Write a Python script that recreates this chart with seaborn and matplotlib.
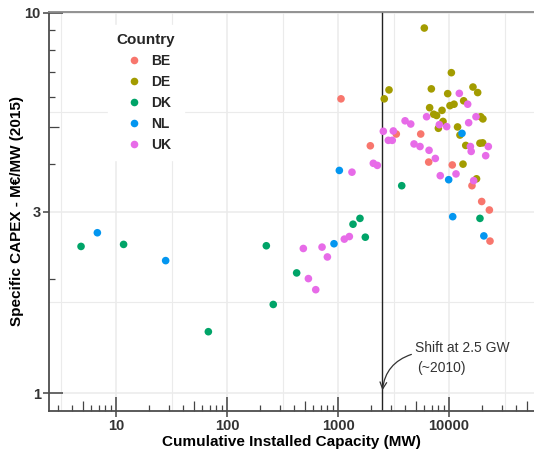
import numpy as np
import pandas as pd
import matplotlib
matplotlib.use("Agg")
import matplotlib.pyplot as plt
import matplotlib.ticker as mticker
import seaborn as sns

# ---------------------------------------------------------------------------
# Data
# ---------------------------------------------------------------------------
BE_X = [1064, 1955, 3350, 5560, 6560, 10700, 16100, 19700, 23100, 23400]
BE_Y = [5.94, 4.47, 4.80, 4.80, 4.05, 3.98, 3.51, 3.19, 3.03, 2.51]

DE_X = [2610, 2880, 5990, 6690, 6930, 7280, 7730, 8020, 8650, 8830, 9730, 10200, 10500,
        11100, 11940, 12550, 13370, 13550, 14150, 16440, 17700, 18120, 19000, 19300,
        20100, 20200]
DE_Y = [5.94, 6.27, 9.12, 5.63, 6.31, 5.41, 5.37, 4.97, 5.54, 5.18, 6.13, 5.70, 6.96,
        5.75, 5.01, 4.77, 4.00, 5.87, 4.48, 6.38, 3.66, 6.17, 4.54, 5.33,
        4.55, 5.26]

DK_X = [4.84, 11.7, 67.9, 226, 261, 424, 1365, 1577, 1762, 3750, 19000]
DK_Y = [2.43, 2.46, 1.45, 2.44, 1.71, 2.07, 2.78, 2.88, 2.57, 3.51, 2.88]

NL_X = [6.79, 28.0, 920, 1028, 9930, 10800, 13090, 20600]
NL_Y = [2.64, 2.23, 2.47, 3.85, 3.64, 2.91, 4.82, 2.59]

UK_X = [487, 541, 630, 718, 802, 1140, 1265, 1336, 2080, 2260, 2560, 2840, 3080, 3150,
        4020, 4520, 4840, 5480, 6280, 6610, 7530, 8180, 8340, 9530, 11560, 12380,
        14730, 15030, 15580, 15840, 16680, 17500, 21400, 22600]
UK_Y = [2.40, 2.00, 1.87, 2.42, 2.28, 2.54, 2.58, 3.81, 4.02, 3.97, 4.88, 4.62, 4.62, 4.89,
        5.20, 5.10, 4.52, 4.45, 5.33, 4.35, 4.14, 5.08, 3.73, 5.02, 3.77, 6.14,
        5.75, 5.14, 4.45, 4.32, 3.62, 5.33, 4.21, 4.45]

COUNTRIES = ["BE", "DE", "DK", "NL", "UK"]
COLORS = ["#F8766D", "#A39C00", "#00A468", "#0396F0", "#E76BE8"]

X_MAJOR = [10, 100, 1000, 10000]
Y_MAJOR = [1, 3, 10]
SHIFT_MW = 2500

# ---------------------------------------------------------------------------
# Build frame
# ---------------------------------------------------------------------------
series = {"BE": (BE_X, BE_Y), "DE": (DE_X, DE_Y), "DK": (DK_X, DK_Y),
          "NL": (NL_X, NL_Y), "UK": (UK_X, UK_Y)}
df = pd.concat(
    [pd.DataFrame({"capacity": xs, "capex": ys, "Country": c}) for c, (xs, ys) in series.items()],
    ignore_index=True,
)

sns.set_theme(style="white")
plt.rcParams["font.family"] = ["Liberation Sans", "DejaVu Sans"]

TICK_COL = "#333333"
GRID_COL = "#ebebeb"

fig = plt.figure(figsize=(5.34, 4.51), dpi=100)
ax = fig.add_axes([49 / 534, 40 / 451, 485 / 534, 399 / 451])

ax.set_xscale("log")
ax.set_yscale("log")
ax.set_xlim(2.49, 58300)
ax.set_ylim(0.897, 10.05)

# ggplot-like grid: majors + half-decade minors
for v in X_MAJOR:
    ax.axvline(v, color=GRID_COL, lw=1.1, zorder=0)
for k in range(0, 5):
    ax.axvline(10 ** (k + 0.5), color=GRID_COL, lw=0.8, zorder=0)
for v in Y_MAJOR:
    ax.axhline(v, color=GRID_COL, lw=1.1, zorder=0)
for v in [np.sqrt(3), np.sqrt(30)]:
    ax.axhline(v, color=GRID_COL, lw=0.8, zorder=0)

sns.scatterplot(data=df, x="capacity", y="capex", hue="Country", hue_order=COUNTRIES,
                palette=dict(zip(COUNTRIES, COLORS)), s=30, linewidth=0, ax=ax, zorder=3)

ax.axvline(SHIFT_MW, color="#222222", lw=1.0, zorder=2)

ax.annotate("", xy=(SHIFT_MW, 1.0), xytext=(4840, 1.27),
            arrowprops=dict(arrowstyle="->", color="#333333", lw=0.9,
                            connectionstyle="arc3,rad=0.35"))
ax.text(4950, 1.31, "Shift at 2.5 GW", fontsize=10, color="#333333", va="center", ha="left")
ax.text(5200, 1.165, "(~2010)", fontsize=10, color="#333333", va="center", ha="left")

# ticks: short outward majors with labels, inward log ticks (annotation_logticks style)
ax.xaxis.set_major_locator(mticker.FixedLocator(X_MAJOR))
ax.xaxis.set_major_formatter(mticker.FixedFormatter([str(v) for v in X_MAJOR]))
ax.yaxis.set_major_locator(mticker.FixedLocator(Y_MAJOR))
ax.yaxis.set_major_formatter(mticker.FixedFormatter([str(v) for v in Y_MAJOR]))
x_minor = [m * 10 ** k for k in range(0, 5) for m in range(1, 10) if 2.49 < m * 10 ** k < 58300]
y_minor = [1, 2, 4, 5, 6, 7, 8, 9, 10]
ax.xaxis.remove_overlapping_locs = False
ax.yaxis.remove_overlapping_locs = False
ax.xaxis.set_minor_locator(mticker.FixedLocator(x_minor))
ax.yaxis.set_minor_locator(mticker.FixedLocator(y_minor))
ax.xaxis.set_minor_formatter(mticker.NullFormatter())
ax.yaxis.set_minor_formatter(mticker.NullFormatter())

ax.tick_params(which="major", direction="out", length=4, width=1.1, color="#444444",
               labelsize=10.5, labelcolor=TICK_COL, pad=2)
ax.tick_params(which="minor", direction="in", length=4, width=0.9, color="#444444")
ax.tick_params(axis="x", which="both", bottom=True)
ax.tick_params(axis="y", which="both", left=True)
for lab in ax.get_xticklabels() + ax.get_yticklabels():
    lab.set_fontweight("bold")

# longer inward ticks at the 5s and the decades
for axis in (ax.xaxis, ax.yaxis):
    locs = axis.get_minorticklocs()
    for tick, loc in zip(axis.get_minor_ticks(len(locs)), locs):
        mant = loc / 10 ** np.floor(np.log10(loc) + 1e-9)
        if abs(mant - 5) < 1e-6:
            tick.tick1line.set_markersize(7)
        elif abs(mant - 1) < 1e-6:
            tick.tick1line.set_markersize(10)
            tick.tick1line.set_markeredgewidth(1.1)

for side in ["left", "bottom"]:
    ax.spines[side].set_color("#4d4d4d")
    ax.spines[side].set_linewidth(1.3)
ax.spines["top"].set_color("#8a8a8a")
ax.spines["top"].set_linewidth(1.3)
ax.spines["right"].set_visible(False)

ax.set_xlabel("Cumulative Installed Capacity (MW)", fontsize=11, fontweight="bold",
              color="black", labelpad=1.5)
ax.set_ylabel("Specific CAPEX - M€/MW (2015)", fontsize=11, fontweight="bold",
              color="black", labelpad=0)

handles, labels = ax.get_legend_handles_labels()
leg = ax.legend(handles, labels, title="Country", loc="upper left",
                bbox_to_anchor=(0.108, 0.985), frameon=True, facecolor="white",
                edgecolor="white", framealpha=1, fontsize=10, labelspacing=0.5,
                handletextpad=0.25, markerscale=1.0, borderpad=0.6)
leg.get_title().set_fontweight("bold")
leg.get_title().set_fontsize(11)
for t in leg.get_texts():
    t.set_fontweight("bold")

fig.savefig("out.png", dpi=100)
